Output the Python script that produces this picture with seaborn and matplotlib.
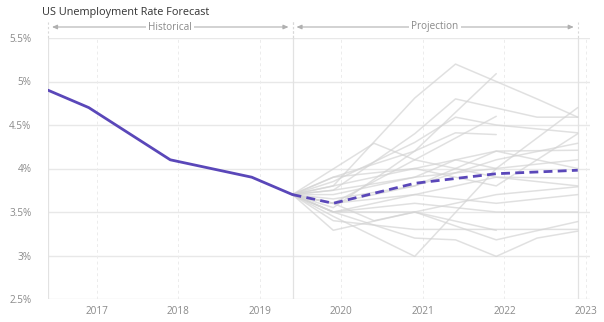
import numpy as np
import pandas as pd
import matplotlib
matplotlib.use("Agg")
import matplotlib.pyplot as plt
import seaborn as sns

# ---- data ----
title = "US Unemployment Rate Forecast"
hist_x = [2016.4, 2016.9, 2017.9, 2018.9, 2019.4]
hist_y = [4.9, 4.7, 4.1, 3.9, 3.7]

proj_x = [2019.4, 2019.9, 2020.9, 2021.9, 2022.9]
proj_y = [3.7, 3.6, 3.83, 3.94, 3.98]

slots = [2019.4, 2019.9, 2020.4, 2020.9, 2021.4, 2021.9, 2022.4, 2022.9]
nan = np.nan
scenarios = [
    [3.7, 3.80, nan, 4.81, 5.20, nan, 4.80, 4.59],
    [3.7, 3.55, nan, 4.20, nan, 5.09, nan, nan],
    [3.7, 3.75, nan, 4.40, 4.80, nan, 4.59, 4.59],
    [3.7, 3.85, nan, 4.30, 4.59, 4.50, nan, 4.41],
    [3.7, 3.90, nan, 4.20, 4.41, 4.39, nan, nan],
    [3.7, nan, 4.29, 4.10, nan, 3.90, nan, 3.80],
    [3.7, 3.45, nan, 2.99, nan, 4.00, nan, 4.70],
    [3.7, 3.50, nan, 3.20, 3.18, 2.99, 3.20, 3.28],
    [3.7, 3.29, nan, 3.50, nan, 3.18, nan, 3.39],
    [3.7, 3.60, 3.40, 3.50, nan, 3.29, nan, nan],
    [3.7, 3.50, nan, 3.60, nan, 3.50, nan, 3.50],
    [3.7, 3.65, nan, 3.80, nan, 4.10, nan, 4.29],
    [3.7, 3.80, nan, 4.00, nan, 4.20, nan, 4.21],
    [3.7, 3.70, nan, 3.90, nan, 4.00, nan, 4.10],
    [3.7, 3.50, nan, 3.70, nan, 3.90, nan, 3.89],
    [3.7, 3.50, nan, 3.50, nan, 3.70, nan, 3.79],
    [3.7, 3.60, nan, 3.80, nan, 4.20, nan, 4.00],
    [3.7, 3.90, nan, 4.00, nan, 3.80, nan, 4.40],
    [3.7, 3.75, nan, 3.90, 4.10, 4.00, nan, nan],
    [3.7, 3.40, nan, 3.30, nan, 3.30, nan, 3.30],
    [3.7, 3.60, nan, 4.10, nan, 4.60, nan, nan],
    [3.7, 3.60, nan, 3.70, nan, 3.60, nan, 3.70],
]
year_ticks = [2017, 2018, 2019, 2020, 2021, 2022, 2023]
y_ticks = [2.5, 3.0, 3.5, 4.0, 4.5, 5.0, 5.5]
y_labels = ["2.5%", "3%", "3.5%", "4%", "4.5%", "5%", "5.5%"]

# ---- build tables ----
rows = []
for i, vals in enumerate(scenarios):
    for xv, yv in zip(slots, vals):
        if not np.isnan(yv):
            rows.append({"line": i, "x": xv, "v": yv})
gray_df = pd.DataFrame(rows)
hist_df = pd.DataFrame({"x": hist_x, "v": hist_y})
proj_df = pd.DataFrame({"x": proj_x, "v": proj_y})

sns.set_style("white")
plt.rcParams["font.family"] = ["Open Sans", "DejaVu Sans"]

W, H = 604, 322
fig = plt.figure(figsize=(W / 100, H / 100), dpi=100)
ax_l, ax_r, ax_t, ax_b = 48, 590, 38, 299
ax = fig.add_axes([ax_l / W, 1 - ax_b / H, (ax_r - ax_l) / W, (ax_b - ax_t) / H])

purple = "#5a47b9"
grid_c = "#e8e8e8"
text_c = "#8a8a8a"

# gray scenario lines
sns.lineplot(data=gray_df, x="x", y="v", units="line", estimator=None,
             color="#d4d4d4", lw=1.1, alpha=0.7, ax=ax, zorder=2)
sns.lineplot(data=hist_df, x="x", y="v", color=purple, lw=2.0, ax=ax, zorder=5)
sns.lineplot(data=proj_df, x="x", y="v", color=purple, lw=2.0, ax=ax, zorder=5,
             dashes=False, linestyle=(0, (3.2, 1.9)))

ax.set_xlim(2016.4, 2016.4 + (ax_r - ax_l) / 81.5)
ax.set_ylim(2.5, 5.5)
ax.set_xticks(year_ticks)
ax.set_xticklabels([str(y) for y in year_ticks])
ax.set_yticks(y_ticks)
ax.set_yticklabels(y_labels)
ax.set_xlabel("")
ax.set_ylabel("")

for s in ax.spines.values():
    s.set_visible(False)

# horizontal grid (extends left like ticks)
for yv in y_ticks:
    ax.axhline(yv, color=grid_c, lw=1.0, zorder=0)
ax.tick_params(axis="y", length=10, width=1.0, color=grid_c, labelsize=7.2,
               labelcolor=text_c, pad=2)
ax.tick_params(axis="x", length=0, labelsize=7.2, labelcolor=text_c, pad=5)

# vertical dashed grid at years
for xv in year_ticks:
    ax.axvline(xv, color="#ececec", lw=0.7, ls=(0, (3, 3)), zorder=0)

# solid boundary lines
split_x = hist_x[-1]
end_x = proj_x[-1]
for xv in [hist_x[0], split_x, end_x]:
    ax.axvline(xv, color="#e2e2e2", lw=0.9, zorder=1)

# title
fig.text(42 / W, 1 - 13 / H, title, fontsize=7.8, color="#333333", va="center", ha="left")

# range annotations above the plot
def fx(xv):
    return ax.transData.transform((xv, 0))[0]

fig.canvas.draw()
ann_y = 27
for (x0, x1, label) in [(hist_x[0], split_x, "Historical"), (split_x, end_x, "Projection")]:
    px0, px1 = fx(x0), fx(x1)
    fy = 1 - ann_y / H
    fig.add_artist(matplotlib.patches.FancyArrowPatch(
        (px0 / W + 0.002, fy), (px1 / W - 0.002, fy), transform=fig.transFigure,
        arrowstyle="<|-|>,head_length=3,head_width=1.3", color="#b0b0b0", lw=0.8,
        mutation_scale=1))
    fig.text((px0 + px1) / 2 / W, fy, label, fontsize=7.2, color=text_c, ha="center", va="center",
             bbox=dict(facecolor="white", edgecolor="none", pad=1.5))
    for p in [px0, px1]:
        fig.add_artist(matplotlib.lines.Line2D([p / W, p / W], [1 - 22 / H, 1 - ax_t / H],
                       transform=fig.transFigure, color="#d8d8d8", lw=0.8, ls=(0, (2, 2))))

fig.savefig("out.png", dpi=100)
